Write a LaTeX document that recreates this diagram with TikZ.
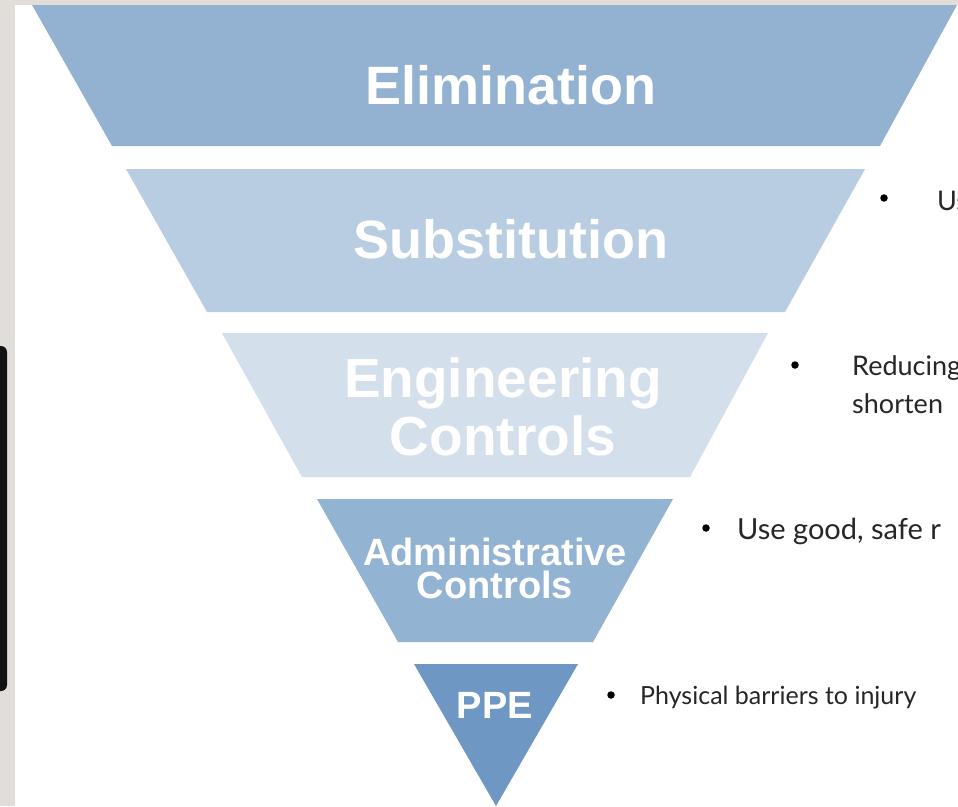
\documentclass[tikz,border=0pt]{standalone}
\usepackage{fontspec}
\usetikzlibrary{fadings}
\setmainfont{Liberation Sans}
\newfontfamily\notefont{Lato}
\definecolor{deskgray}{HTML}{E1DDD8}
\definecolor{devblack}{HTML}{111214}
\definecolor{bandA}{HTML}{93B2D2}
\definecolor{bandB}{HTML}{B8CDE2}
\definecolor{bandC}{HTML}{D3DFEB}
\definecolor{bandD}{HTML}{93B3D3}
\definecolor{bandE}{HTML}{6F97C4}
\definecolor{notegray}{HTML}{262626}
% soft vertical falloff for the panel's edge shadow
\tikzfading[name=edgefade, top color=transparent!100,
  middle color=transparent!0, bottom color=transparent!100]
\begin{document}
\begin{tikzpicture}[x=1pt,y=-1pt,
  % multi-line labels sit on the baseline of their last line
  level/.style={text=white, align=center, inner sep=0pt, anchor=base},
  bigtext/.style={level, font=\bfseries\fontsize{54}{58}\selectfont},
  midtext/.style={level, font=\bfseries\fontsize{55}{58}\selectfont},
  smalltext/.style={level, font=\bfseries\fontsize{38}{33}\selectfont},
  note/.style={font=\notefont\fontsize{27}{38}\selectfont, text=notegray,
    anchor=base west, inner sep=0pt},
  bullet/.style={circle, fill=black, inner sep=0pt, minimum size=7.5pt}]
\useasboundingbox (0,0) rectangle (958,806);

% desk and slide panel
\fill[deskgray] (0,0) rectangle (958,806);
\fill[white] (15,5) rectangle (958,806);
\shade[left color=black!10, right color=white, path fading=edgefade]
  (15,340) rectangle (38,760);
\fill[devblack, rounded corners=6pt] (-12,346) rectangle (7,691);

% hierarchy bands
\fill[bandA] (32,5) -- (957,5) -- (880,146) -- (112,146) -- cycle;
\fill[bandB] (126,169) -- (865,169) -- (785,312) -- (207,312) -- cycle;
\fill[bandC] (222,333) -- (768,333) -- (690,477) -- (302,477) -- cycle;
\fill[bandD] (317,499) -- (673,499) -- (593,642) -- (398,642) -- cycle;
\fill[bandE] (414,664) -- (578,664) -- (496,806) -- cycle;

% band labels
\node[bigtext] (elim) at (511,104) {Elimination};
\node[bigtext] (subst) at (511,258) {Substitution};
\node[midtext] (eng) at (503,455) {Engineering\\Controls};
\node[smalltext] (adm) at (495,598) {Administrative\\Controls};
\node[smalltext] (ppe) at (495,718) {PPE};

% notes beside the bands
\begin{scope}
\clip (0,0) rectangle (958,806);
\node[bullet] (b1) at (884,198) {};
\node[note] (n1) at (937,210) {Us};
\node[bullet] (b2) at (795,365) {};
\node[note] (n2) at (852,375) {Reducing};
\node[note] (n2b) at (852,413) {shorten};
\node[bullet] (b3) at (706,528) {};
\node[note, font=\notefont\fontsize{29}{38}\selectfont] (n3) at (737,539) {Use good, safe r};
\node[bullet] (b4) at (611,695) {};
\node[note, font=\notefont\fontsize{25}{38}\selectfont] (n4) at (640,704) {Physical barriers to injury};
\end{scope}
\end{tikzpicture}
\end{document}
